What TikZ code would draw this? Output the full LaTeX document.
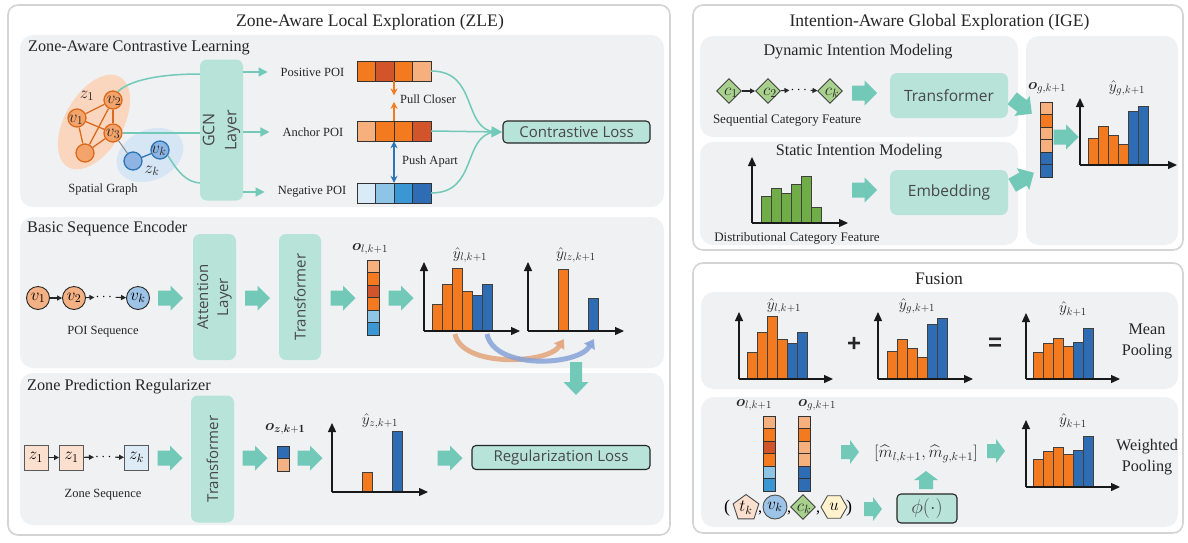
\RequirePackage{fix-cm}
\documentclass[tikz,border=0pt]{standalone}
\usepackage{amsmath}
\usepackage{fontspec}
\setmainfont{Liberation Serif}
\newfontfamily\sansf{Open Sans}
\newfontfamily\lsans{Liberation Sans}
\usetikzlibrary{arrows.meta,shapes.geometric,calc}

\definecolor{panelgrey}{HTML}{F0F1F3}
\definecolor{tealbox}{HTML}{B7E3D9}
\definecolor{tealarr}{HTML}{72C9B8}
\definecolor{orA}{HTML}{F47A20}
\definecolor{orD}{HTML}{D2542A}
\definecolor{orL}{HTML}{F6B07E}
\definecolor{blD}{HTML}{2E6DB4}
\definecolor{blM}{HTML}{3A97D3}
\definecolor{blL}{HTML}{8EC4E6}
\definecolor{blVL}{HTML}{D8EBF7}
\definecolor{grn}{HTML}{70AD47}
\definecolor{ellO}{HTML}{FAD6BE}
\definecolor{ellB}{HTML}{D6E6F4}
\definecolor{nodeO}{HTML}{F4A46A}
\definecolor{nodeOd}{HTML}{D96A1E}
\definecolor{nodeB}{HTML}{8DB4E2}
\definecolor{nodeBd}{HTML}{2E75B6}
\definecolor{seqO}{HTML}{F4B183}
\definecolor{seqB}{HTML}{9DC3E6}
\definecolor{zoneO}{HTML}{FBE0CF}
\definecolor{zoneB}{HTML}{DDEBF7}
\definecolor{dia}{HTML}{A9D18E}
\definecolor{hexY}{HTML}{FFF2CC}
\definecolor{txt}{HTML}{262626}
\definecolor{arrO}{HTML}{E3A57A}
\definecolor{arrB}{HTML}{86A3D8}

\newcommand\fsz[2]{\fontsize{#1}{#2}\selectfont}
\newcommand\mycellsh[4]{\foreach \c [count=\i from 0] in {#4}{\filldraw[fill=\c, draw=black!80, line width=0.9pt] ({#1+\i*#3}, #2) rectangle ++(#3,20);}}
\newcommand\mycellsv[3]{\foreach \c [count=\i from 0] in {#3}{\filldraw[fill=\c, draw=black!80, line width=0.9pt] (#1, {#2+\i*12.5}) rectangle ++(12,12.5);}}
\newcommand\myhist[6]{%
  \foreach \t/\c [count=\i from 0] in {#6}{\filldraw[fill=\c, draw=black!75, line width=0.8pt] ({#5+\i*10.1}, #2) rectangle ({#5+(\i+1)*10.1}, \t);}
  \draw[axis] (#1,#2) -- (#1,#3);
  \draw[axis] (#1,#2) -- (#4,#2);}

\begin{document}
\begin{tikzpicture}[x=1pt,y=-1pt,
  panel/.style={fill=white, draw=black!17, line width=1.6pt, rounded corners=10pt},
  subpanel/.style={fill=panelgrey, rounded corners=13pt},
  ttl/.style={font=\fsz{17.6}{20}, text=txt, inner sep=0},
  sttl/.style={font=\fsz{16.2}{19}, text=txt, inner sep=0},
  sub/.style={font=\fsz{16.2}{19}, text=txt, anchor=west, inner sep=0},
  lbl/.style={font=\fsz{12.5}{14}, text=txt, inner sep=0},
  mlbl/.style={font=\fsz{15.5}{17}, text=txt, inner sep=0},
  tbox/.style={fill=tealbox, draw=none, rounded corners=7pt, inner sep=0},
  rtext/.style={rotate=90, font=\sansf\fsz{15}{20}, text=txt!85, align=center, inner sep=0},
  lossbox/.style={fill=tealbox, draw=txt, line width=1.1pt, rounded corners=4pt, inner sep=0, font=\sansf\fsz{15}{18}, text=txt!85},
  tconn/.style={draw=tealarr, line width=1.5pt},
  axis/.style={line width=1.3pt, black!90, -{Triangle[length=9pt,width=8pt]}},
  gnode/.style={circle, minimum size=18pt, inner sep=0, fill=nodeO, draw=nodeOd, line width=1.3pt},
  bnode/.style={circle, minimum size=18pt, inner sep=0, fill=nodeB, draw=nodeBd, line width=1.3pt},
  gedge/.style={draw=nodeOd, line width=1.3pt},
  snode/.style={circle, minimum size=23pt, inner sep=0, draw=txt, line width=0.9pt, font=\fsz{17}{18}},
  zbox/.style={rectangle, minimum width=24pt, minimum height=25pt, inner sep=0, draw=black!65, line width=0.9pt, font=\fsz{17}{18}},
  sarr/.style={draw=txt, line width=1.1pt, -{Triangle[length=5pt,width=5pt]}},
  dnode/.style={diamond, minimum size=25pt, inner sep=0, fill=dia, draw=black!75, line width=0.9pt},
  vecnode/.style={inner sep=0, draw=none},
  barrow/.pic={\fill[tealarr] (-12.5,-7.5) -- (0,-7.5) -- (0,-12.5) -- (12.5,0) -- (0,12.5) -- (0,7.5) -- (-12.5,7.5) -- cycle;},
  sbarrow/.pic={\fill[tealarr] (-9,-7) -- (0,-7) -- (0,-12) -- (9,0) -- (0,12) -- (0,7) -- (-9,7) -- cycle;}
]
\useasboundingbox (0,0) rectangle (1188,542);
\fill[white] (0,0) rectangle (1188,542);

% ---------- panels ----------
\draw[panel] (8,5) rectangle (670,535);
\draw[panel] (693,5) rectangle (1183,250);
\draw[panel] (693,263) rectangle (1183,533);
\fill[subpanel] (20,35) rectangle (664,207);
\fill[subpanel] (20,217) rectangle (664,368);
\fill[subpanel] (20,373) rectangle (664,525);
\fill[subpanel] (700,36) rectangle (1018,137);
\fill[subpanel] (700,142) rectangle (1018,245);
\fill[subpanel] (1026,36) rectangle (1178,245);
\fill[subpanel] (701,292) rectangle (1178,389);
\fill[subpanel] (701,397) rectangle (1178,527);

% ---------- titles ----------
\node[ttl] (tZLE) at (370,22) {Zone-Aware Local Exploration (ZLE)};
\node[sub] (tCL) at (28,48) {Zone-Aware Contrastive Learning};
\node[sub] (tBSE) at (27,229) {Basic Sequence Encoder};
\node[sub] (tZPR) at (27,387) {Zone Prediction Regularizer};
\node[ttl] (tIGE) at (939.5,22) {Intention-Aware Global Exploration (IGE)};
\node[sttl] (tDIM) at (858,52) {Dynamic Intention Modeling};
\node[sttl] (tSIM) at (859,152) {Static Intention Modeling};
\node[ttl] (tFus) at (939,279) {Fusion};

% ---------- spatial graph ----------
\node[ellipse, fill=ellO, minimum width=104pt, minimum height=58pt, rotate=60, inner sep=0] (zone1) at (94,122) {};
\node[ellipse, fill=ellB, minimum width=70pt, minimum height=50pt, rotate=25, inner sep=0] (zonek) at (150,155) {};
\node[gnode] (g2) at (113,100) {};
\node[gnode] (g1) at (77,118) {};
\node[gnode] (g3) at (113,133) {};
\node[gnode] (g4) at (85,153) {};
\node[bnode] (g5) at (133,161) {};
\node[bnode] (gk) at (160,150) {};
\draw[gedge] (g1) -- (g2);
\draw[gedge] (g1) -- (g3);
\draw[gedge] (g1) -- (g4);
\draw[gedge] (g2) -- (g3);
\draw[gedge] (g2) -- (g4);
\draw[gedge] (g3) -- (g4);
\draw[black!45, line width=1pt] (g3) -- (g5);
\draw[nodeBd, line width=1.3pt] (g5) -- (gk);
\node[mlbl, font=\fsz{17}{18}] (lv2) at (114,101) {$v_2$};
\node[mlbl, font=\fsz{17}{18}] (lv1) at (76,120) {$v_1$};
\node[mlbl, font=\fsz{17}{18}] (lv3) at (113,134) {$v_3$};
\node[mlbl, font=\fsz{17}{18}] (lvk) at (159,151) {$v_k$};
\node[mlbl, font=\fsz{17}{18}] (lz1) at (87,96) {$z_1$};
\node[mlbl, font=\fsz{17}{18}] (lzk) at (152,171) {$z_k$};
\node[lbl] (spg) at (103,189) {Spatial Graph};

% ---------- GCN ----------
\node[tbox, minimum width=43pt, minimum height=141pt] (gcn) at (221.5,130) {};
\node[rtext, font=\sansf\fsz{16}{22}] (gcnt) at (gcn) {GCN\\Layer};
\coordinate (gin1) at (200,74);
\coordinate (gin3) at (200,183);
\draw[tconn] (g2.60) .. controls (130,80) and (160,74) .. (gin1);
\draw[tconn] (g3.east) -- (g3.east -| gcn.west);
\draw[tconn] (gk.-35) .. controls (178,172) and (186,182) .. (gin3);

\node[lbl] (posl) at (312.5,72) {Positive POI};
\node[lbl] (ancl) at (313,132) {Anchor POI};
\node[lbl] (negl) at (312,192) {Negative POI};
\draw[tconn, -{Triangle[length=9pt,width=9pt]}] (gcn.east |- posl) -- ([xshift=-13pt]posl.west);
\draw[tconn, -{Triangle[length=9pt,width=9pt]}] (gcn.east |- ancl) -- ([xshift=-13pt]ancl.west);
\draw[tconn, -{Triangle[length=9pt,width=9pt]}] (gcn.east |- negl) -- ([xshift=-13pt]negl.west);

% ---------- POI vectors ----------
\node[vecnode, minimum width=74pt, minimum height=20pt] (pos) at (394,71) {};
\mycellsh{357}{61}{18.5}{orA,orD,orA,orL}
\node[vecnode, minimum width=74pt, minimum height=20pt] (anc) at (394,131) {};
\mycellsh{357}{121}{18.5}{orL,orA,orA,orD}
\node[vecnode, minimum width=74pt, minimum height=20pt] (neg) at (394,193) {};
\mycellsh{357}{183}{18.5}{blVL,blL,blM,blD}

\draw[orA, line width=1.6pt, -{Stealth[length=7pt,width=7pt]}] (pos.south) -- ($(pos.south)!0.36!(anc.north)$);
\draw[orA, line width=1.6pt, -{Stealth[length=7pt,width=7pt]}] (anc.north) -- ($(pos.south)!0.52!(anc.north)$);
\draw[nodeBd, line width=1.6pt, {Stealth[length=7pt,width=7pt]}-{Stealth[length=7pt,width=7pt]}] (anc.south) -- (neg.north);
\node[lbl] (pullc) at (428,99) {Pull Closer};
\node[lbl] (pusha) at (430,161) {Push Apart};

\node[lossbox, minimum width=147pt, minimum height=22pt] (closs) at (576.5,132) {Contrastive Loss};
\draw[tconn, -{Triangle[length=11pt,width=11pt]}] (anc.east) -- (closs.west);
\draw[tconn] (pos.east) .. controls (478,71) and (462,128) .. ([xshift=-8pt]closs.west);
\draw[tconn] (neg.east) .. controls (478,193) and (462,136) .. ([xshift=-8pt]closs.west);

% ---------- Basic Sequence Encoder ----------
\node[snode, fill=seqO] (s1) at (38,298) {$v_1$};
\node[snode, fill=seqO] (s2) at (74,298) {$v_2$};
\node[inner sep=1pt, font=\fsz{14}{15}] (sdots) at (105,297) {$\cdots$};
\node[snode, fill=seqB] (sk) at (138,298) {$v_k$};
\draw[sarr] (s1) -- (s2);
\draw[sarr] (s2) -- (sdots);
\draw[sarr] (sdots) -- (sk);
\node[lbl] (poiseq) at (103,332) {POI Sequence};
\pic at (170.5,298) {barrow};
\node[tbox, minimum width=43pt, minimum height=126pt] (att) at (214.5,297) {};
\node[rtext] (attt) at (att) {Attention\\Layer};
\pic at (257.5,298) {barrow};
\node[tbox, minimum width=42pt, minimum height=126pt] (trl) at (300,297) {};
\node[rtext] (trlt) at (trl) {Transformer};
\pic at (343,298) {barrow};
\node[vecnode, minimum width=12pt, minimum height=75pt] (ol) at (373,297.5) {};
\mycellsv{367}{260}{orL,orA,orD,orA,blL,blM}
\node[mlbl] (oll) at (370,249) {$\boldsymbol{o}_{l,k+1}$};
\pic at (401,298) {barrow};
\myhist{424}{331}{262}{520}{432}{304/orA,284/orA,268/orA,291/orA,295/blD,284/blD}
\node[mlbl] (yl) at (470,255) {$\hat{y}_{l,k+1}$};
\filldraw[fill=orA, draw=black!75, line width=0.8pt] (558,331) rectangle (568,269);
\filldraw[fill=blD, draw=black!75, line width=0.8pt] (588,331) rectangle (598,298);
\draw[axis] (528,331) -- (528,262);
\draw[axis] (528,331) -- (624,331);
\node[mlbl] (ylz) at (576,255) {$\hat{y}_{lz,k+1}$};
\draw[line width=5pt, arrO, opacity=0.85, -{Triangle[length=9pt,width=12pt]}] (455,334) .. controls (462,368) and (548,364) .. (564,339);
\draw[line width=5pt, arrB, opacity=0.85, -{Triangle[length=9pt,width=12pt]}] (487,334) .. controls (494,370) and (578,366) .. (594,339);

% ---------- Zone Prediction Regularizer ----------
\node[zbox, fill=zoneO] (z1) at (36,457.5) {$z_1$};
\node[zbox, fill=zoneO] (z2) at (71.5,457.5) {$z_1$};
\node[inner sep=1pt, font=\fsz{14}{15}] (zdots) at (104.5,457) {$\cdots$};
\node[zbox, fill=zoneB] (zk) at (136.5,457.5) {$z_k$};
\draw[sarr] (z1) -- (z2);
\draw[sarr] (z2) -- (zdots);
\draw[sarr] (zdots) -- (zk);
\node[lbl] (zseq) at (103,495) {Zone Sequence};
\pic at (170,458) {barrow};
\node[tbox, minimum width=43pt, minimum height=127pt] (trz) at (212.5,459) {};
\node[rtext] (trzt) at (trz) {Transformer};
\pic at (255,458) {barrow};
\node[vecnode, minimum width=12pt, minimum height=25pt] (oz) at (283,458.5) {};
\mycellsv{277}{446}{blD,seqO}
\node[mlbl] (ozl) at (285,429) {$\boldsymbol{o}_{\boldsymbol{z},\boldsymbol{k}\mathbf{+1}}$};
\pic at (310,458) {barrow};
\filldraw[fill=orA, draw=black!75, line width=0.8pt] (362,492) rectangle (372,472);
\filldraw[fill=blD, draw=black!75, line width=0.8pt] (392,492) rectangle (402,431);
\draw[axis] (332,492) -- (332,423);
\draw[axis] (332,492) -- (428,492);
\node[mlbl] (yz) at (380,421) {$\hat{y}_{z,k+1}$};
\pic at (450,458) {barrow};
\node[lossbox, minimum width=178pt, minimum height=24pt] (rloss) at (561,457.5) {Regularization Loss};

% down arrow crossing panels
\fill[tealarr] (570,362) -- (582,362) -- (582,382) -- (588.5,382) -- (576,395) -- (563.5,382) -- (570,382) -- cycle;

% ---------- IGE ----------
\node[dnode] (c1) at (729,91) {};
\node[dnode] (c2) at (768,91) {};
\node[inner sep=1pt, font=\fsz{14}{15}] (cdots) at (800,90) {$\cdots$};
\node[dnode] (ck) at (830,91) {};
\draw[sarr] (c1) -- (c2);
\draw[sarr] (c2) -- (cdots);
\draw[sarr] (cdots) -- (ck);
\node[mlbl, font=\fsz{17}{18}] (lc1) at (731,93) {$c_1$};
\node[mlbl, font=\fsz{17}{18}] (lc2) at (770,93) {$c_2$};
\node[mlbl, font=\fsz{17}{18}] (lck) at (832,93) {$c_k$};
\node[lbl, font=\fsz{13}{15}] (scf) at (787,120) {Sequential Category Feature};
\pic at (864.5,93) {barrow};
\node[tbox, minimum width=118pt, minimum height=45pt, font=\sansf\fsz{15.5}{18}, text=txt!85] (trg) at (949,95.5) {Transformer};
\myhist{752}{223}{157}{848}{761}{196/grn,188/grn,193/grn,184/grn,176/grn,207/grn}
\node[lbl, font=\fsz{13}{15}] (dcf) at (797,238) {Distributional Category Feature};
\pic at (864.5,190) {barrow};
\node[tbox, minimum width=118pt, minimum height=45pt, font=\sansf\fsz{15.5}{18}, text=txt!85] (emb) at (949,192.5) {Embedding};
\pic[rotate=-38] at (1022,106) {barrow};
\pic[rotate=30] at (1023,179) {barrow};
\node[vecnode, minimum width=12pt, minimum height=75pt] (og) at (1046,139.5) {};
\mycellsv{1040}{102}{orL,orA,orL,orL,blD,blD}
\node[mlbl] (ogl) at (1047,88) {$\boldsymbol{o}_{g,k+1}$};
\pic at (1066,137) {barrow};
\myhist{1080}{165}{98}{1177}{1088}{138/orA,126/orA,135/orA,144/orA,111/blD,106/blD}
\node[mlbl] (yg) at (1127,88) {$\hat{y}_{g,k+1}$};

% ---------- Fusion (mean) ----------
\myhist{739}{379}{312}{833}{747}{352/orA,332/orA,316/orA,339/orA,343/blD,332/blD}
\node[mlbl] (fyl) at (784,306) {$\hat{y}_{l,k+1}$};
\node[inner sep=0, font=\lsans\bfseries\fsz{24}{24}, text=txt] (plus) at (854,344) {+};
\myhist{878}{379}{312}{973}{887}{351/orA,339/orA,348/orA,357/orA,324/blD,318/blD}
\node[mlbl] (fyg) at (917,306) {$\hat{y}_{g,k+1}$};
\node[inner sep=0, font=\lsans\bfseries\fsz{24}{24}, text=txt] (eq) at (995,344) {=};
\myhist{1026}{379}{313}{1120}{1033}{352/orA,343/orA,338/orA,346/orA,342/blD,328/blD}
\node[mlbl] (fy) at (1073,309) {$\hat{y}_{k+1}$};
\node[sttl, align=center, font=\fsz{16.2}{21}] (meanp) at (1147,341) {Mean\\Pooling};

% ---------- Fusion (weighted) ----------
\node[vecnode, minimum width=12pt, minimum height=75pt] (ol2) at (769,453.5) {};
\mycellsv{763}{416}{orL,orA,orD,orA,blL,blM}
\node[mlbl] (ol2l) at (754,405) {$\boldsymbol{o}_{l,k+1}$};
\node[vecnode, minimum width=12pt, minimum height=75pt] (og2) at (804,453.5) {};
\mycellsv{798}{416}{orL,orA,orL,orL,blD,blD}
\node[mlbl] (og2l) at (817,405) {$\boldsymbol{o}_{g,k+1}$};
\pic at (850,452) {sbarrow};
\node[mlbl, font=\fsz{16.5}{18}] (mhat) at (926,454) {$[\widehat{m}_{l,k+1},\widehat{m}_{g,k+1}]$};
\pic at (996,451) {sbarrow};
\node[inner sep=0, font=\fsz{18}{19}] (lp) at (727,508) {(};
\node[regular polygon, regular polygon sides=5, minimum size=27pt, inner sep=0, fill=zoneO, draw=black!70, line width=0.9pt, font=\fsz{17}{18}] (tk) at (746,508) {$t_k$};
\node[inner sep=0, font=\fsz{16}{17}] (cm1) at (760,513) {,};
\node[circle, minimum size=24pt, inner sep=0, fill=seqB, draw=black!70, line width=0.9pt, font=\fsz{17}{18}] (vk2) at (775,507) {$v_k$};
\node[inner sep=0, font=\fsz{16}{17}] (cm2) at (789,513) {,};
\node[dnode] (ck2) at (803,507) {};
\node[mlbl, font=\fsz{17}{18}] (lck2) at (804,509) {$c_k$};
\node[inner sep=0, font=\fsz{16}{17}] (cm3) at (818,513) {,};
\node[regular polygon, regular polygon sides=6, minimum size=26pt, inner sep=0, fill=hexY, draw=black!70, line width=0.9pt, font=\fsz{17}{18}] (u) at (834,507) {$u$};
\node[inner sep=0, font=\fsz{18}{19}] (rp) at (849,508) {)};
\pic at (873,509) {sbarrow};
\node[lossbox, minimum width=60pt, minimum height=29pt, font=\fsz{20}{21}] (phi) at (927,508.5) {$\phi(\cdot)$};
\pic[rotate=90] at (926,480) {sbarrow};
\myhist{1026}{487}{420}{1120}{1033}{459/orA,451/orA,447/orA,454/orA,450/blD,436/blD}
\node[mlbl] (fy2) at (1073,421) {$\hat{y}_{k+1}$};
\node[sttl, align=center, font=\fsz{16.2}{21}] (wp) at (1147,457) {Weighted\\Pooling};
\end{tikzpicture}
\end{document}
